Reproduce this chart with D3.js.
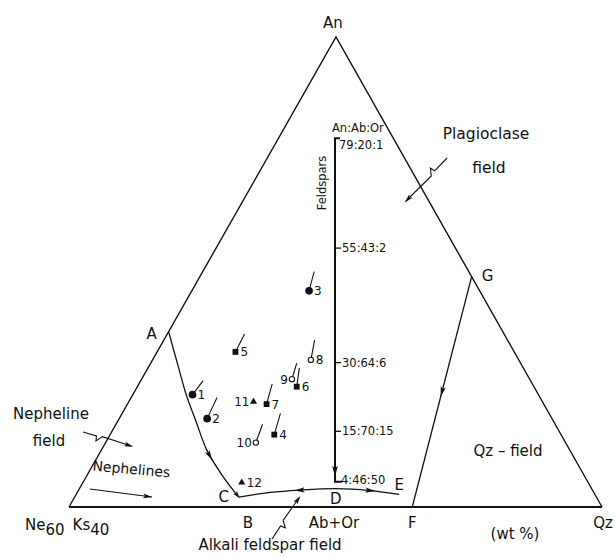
<!DOCTYPE html>
<html>
<head>
<meta charset="utf-8">
<script src="https://cdn.jsdelivr.net/npm/d3@7"></script>
<style>
  body { margin: 0; background: #fff; }
  svg { display: block; }
  text { font-family: "DejaVu Sans", sans-serif; fill: #111; }
</style>
</head>
<body>
<svg id="chart" width="615" height="558"></svg>
<script>
// Samples plotted in the system An - Ne60Ks40 - Qz (wt %)
const sampleIds   = [1, 2, 3, 4, 5, 6, 7, 8, 9, 10, 11, 12];
const sampleAn    = [23.9, 18.8, 46.0, 15.4, 33.0, 25.6, 21.9, 31.3, 27.2, 13.7, 22.4, 5.2];
const sampleQz    = [11.2, 16.5, 22.0, 30.8, 14.7, 29.9, 26.1, 29.7, 28.2, 28.2, 23.4, 29.8];
const sampleNe    = [64.9, 64.7, 32.0, 53.8, 52.3, 44.5, 52.0, 39.0, 44.6, 58.1, 54.2, 65.0];
const sampleKind  = ["dot", "dot", "dot", "square", "square", "square", "square",
                     "ring", "ring", "ring", "triangle", "triangle"];
// Trend of each sample (end point of its tick); null where none is drawn
const trendAn     = [26.9, 23.3, 50.1, 19.9, 36.8, 29.6, 26.2, 35.5, 30.6, 17.6, null, null];
const trendQz     = [11.7, 16.1, 20.9, 29.7, 14.5, 28.4, 25.0, 28.3, 27.4, 27.5, null, null];

// Boundary curves (An, Qz) in wt %
const curveAC_An  = [37.3, 30.2, 23.8, 18.1, 12.1, 6.8, 2.1];
const curveAC_Qz  = [0.0, 5.3, 10.1, 14.8, 19.8, 25.3, 30.8];
const curveCE_An  = [2.1, 3.1, 3.6, 3.9, 3.5, 2.7];
const curveCE_Qz  = [30.8, 36.2, 41.5, 48.1, 54.7, 60.6];
const curveGF_An  = [49.0, 0.0];
const curveGF_Qz  = [51.0, 64.4];

// Named points on the diagram
const pointNames  = ["A", "G", "B", "C", "D", "E", "F"];
const pointAn     = [37.3, 49.0, 0.0, 2.1, 3.9, 2.7, 0.0];
const pointQz     = [0.0, 51.0, 33.4, 30.8, 48.1, 60.6, 64.4];

// Feldspar compositions along the An - (Ab+Or) join
const feldAn      = [79, 55, 30, 15, 4];
const feldLabels  = ["79:20:1", "55:43:2", "30:64:6", "15:70:15", "4:46:50"];

const svg = d3.select("#chart");

// Triangle corners
const NE = [69, 507], AN = [336, 37], QZ = [602, 507];

const yOf = d3.scaleLinear().domain([0, 100]).range([NE[1], AN[1]]);
const leftEdge = d3.scaleLinear().domain([0, 100]).range([NE[0], AN[0]]);
const rightEdge = d3.scaleLinear().domain([0, 100]).range([QZ[0], AN[0]]);
function project(an, qz) {
  const row = d3.scaleLinear().domain([0, 100 - an]).range([leftEdge(an), rightEdge(an)]);
  return [row(qz), yOf(an)];
}

const ink = "#111";

// Triangle outline
svg.append("path")
  .attr("d", d3.line()([NE, AN, QZ]))
  .attr("fill", "none").attr("stroke", ink).attr("stroke-width", 1.4);
svg.append("line")
  .attr("x1", NE[0]).attr("y1", NE[1]).attr("x2", QZ[0]).attr("y2", QZ[1])
  .attr("stroke", ink).attr("stroke-width", 1.8);

// Arrowhead helper: places a narrow filled head on a path at a fraction of its length
function arrowOnPath(node, frac, backwards, len = 10, half = 2.6) {
  const total = node.getTotalLength();
  const L = Math.max(1, Math.min(total - 1, frac * total));
  const p = node.getPointAtLength(L);
  const a = node.getPointAtLength(L - 1), b = node.getPointAtLength(L + 1);
  let ux = b.x - a.x, uy = b.y - a.y;
  const m = Math.hypot(ux, uy); ux /= m; uy /= m;
  if (backwards) { ux = -ux; uy = -uy; }
  const nx = -uy, ny = ux;
  const tip = [p.x + ux * len / 2, p.y + uy * len / 2];
  const base = [p.x - ux * len / 2, p.y - uy * len / 2];
  svg.append("path")
    .attr("d", d3.line()([tip, [base[0] + nx * half, base[1] + ny * half],
                          [base[0] + ux * 2, base[1] + uy * 2],
                          [base[0] - nx * half, base[1] - ny * half]]) + "Z")
    .attr("fill", ink);
}

const smooth = d3.line().curve(d3.curveCatmullRom.alpha(0.5));

// Cotectic A - C
const acPts = curveAC_An.map((an, i) => project(an, curveAC_Qz[i]));
const acPath = svg.append("path").attr("d", smooth(acPts))
  .attr("fill", "none").attr("stroke", ink).attr("stroke-width", 1.3);
arrowOnPath(acPath.node(), 0.72, false);
arrowOnPath(acPath.node(), 0.985, false, 7, 2.6);

// Boundary C - D - E
const cePts = curveCE_An.map((an, i) => project(an, curveCE_Qz[i]));
const cePath = svg.append("path").attr("d", smooth(cePts))
  .attr("fill", "none").attr("stroke", ink).attr("stroke-width", 1.3);
arrowOnPath(cePath.node(), 0.38, true);
arrowOnPath(cePath.node(), 0.82, false);

// Boundary G - F
const gfPts = curveGF_An.map((an, i) => project(an, curveGF_Qz[i]));
const gfPath = svg.append("path").attr("d", d3.line()(gfPts))
  .attr("fill", "none").attr("stroke", ink).attr("stroke-width", 1.3);
arrowOnPath(gfPath.node(), 0.5, false);

// Feldspar join
const feldY = d3.scaleLinear().domain([0, 100]).range([500, 42]);
const feldX = 335;
const fTop = feldY(feldAn[0]), fBot = feldY(feldAn[feldAn.length - 1]);
svg.append("path")
  .attr("d", d3.line()([[feldX + 5, fTop], [feldX, fTop], [feldX, fBot], [feldX + 7, fBot]]))
  .attr("fill", "none").attr("stroke", ink).attr("stroke-width", 2);
{
  const seg = svg.append("path").attr("d", d3.line()([[feldX, fTop], [feldX, fBot]]))
    .attr("stroke", "none").attr("fill", "none");
  arrowOnPath(seg.node(), 0.97, false, 11, 2.8);
  seg.remove();
}
feldAn.slice(1, -1).forEach(v => {
  svg.append("line").attr("x1", feldX).attr("x2", feldX + 6)
    .attr("y1", feldY(v)).attr("y2", feldY(v))
    .attr("stroke", ink).attr("stroke-width", 1.3);
});
feldAn.forEach((v, i) => {
  let x = feldX + 7, y = feldY(v) + 4;
  if (i === 0) { x = feldX + 4; y = feldY(v) + 11; }
  if (i === feldAn.length - 1) { x = feldX + 6; y = feldY(v) + 2; }
  svg.append("text").attr("x", x).attr("y", y)
    .attr("font-size", 11.5).text(feldLabels[i]);
});
svg.append("text").attr("x", feldX - 3).attr("y", fTop - 6)
  .attr("font-size", 11.5).text("An:Ab:Or");
svg.append("text")
  .attr("transform", `translate(${feldX - 9},${183}) rotate(-90)`)
  .attr("text-anchor", "middle").attr("font-size", 11.5).text("Feldspars");

// Sample ticks
sampleIds.forEach((id, i) => {
  if (trendAn[i] == null) return;
  const [x0, y0] = project(sampleAn[i], sampleQz[i]);
  const [x1, y1] = project(trendAn[i], trendQz[i]);
  const m = Math.hypot(x1 - x0, y1 - y0);
  const off = sampleKind[i] === "ring" ? 2.8 : 0;
  svg.append("line")
    .attr("x1", x0 + (x1 - x0) / m * off).attr("y1", y0 + (y1 - y0) / m * off)
    .attr("x2", x1).attr("y2", y1)
    .attr("stroke", ink).attr("stroke-width", 1.1);
});

// Sample markers
const symbolFor = {
  dot: d3.symbol(d3.symbolCircle, 46),
  square: d3.symbol(d3.symbolSquare, 34),
  ring: d3.symbol(d3.symbolCircle, 22),
  triangle: d3.symbol(d3.symbolTriangle, 22)
};
sampleIds.forEach((id, i) => {
  const [x, y] = project(sampleAn[i], sampleQz[i]);
  const k = sampleKind[i];
  svg.append("path")
    .attr("transform", `translate(${x},${y})`)
    .attr("d", symbolFor[k]())
    .attr("fill", k === "ring" ? "#fff" : ink)
    .attr("stroke", k === "ring" ? ink : "none")
    .attr("stroke-width", 1.1);
  const leftSide = id === 9 || id === 10 || id === 11;
  svg.append("text")
    .attr("x", leftSide ? x - 4 : x + 5)
    .attr("y", y + 4.5)
    .attr("text-anchor", leftSide ? "end" : "start")
    .attr("font-size", 12)
    .text(id);
});

// Lightning-bolt arrows pointing into fields
function boltArrow(s, e, t) {
  const dx = e[0] - s[0], dy = e[1] - s[1];
  const m = Math.hypot(dx, dy), ux = dx / m, uy = dy / m, nx = -uy, ny = ux;
  const p = [s[0] + dx * t, s[1] + dy * t];
  const q = [p[0] + nx * 5 + ux * 1, p[1] + ny * 5 + uy * 1];
  const r = [p[0] - nx * 1 + ux * 6, p[1] - ny * 1 + uy * 6];
  svg.append("path").attr("d", d3.line()([s, p, q, r, e]))
    .attr("fill", "none").attr("stroke", ink).attr("stroke-width", 1.1);
  const seg = svg.append("path").attr("d", d3.line()([r, e])).attr("fill", "none");
  arrowOnPath(seg.node(), 0.93, false, 9, 2.4);
  seg.remove();
}
boltArrow([447, 158], [406, 201], 0.3);
boltArrow([83, 432], [131, 446], 0.28);
boltArrow([272, 539], [299, 498], 0.32);

// Plain arrow under "Nephelines"
{
  const seg = svg.append("path").attr("d", d3.line()([[90, 489], [152, 497]]))
    .attr("fill", "none").attr("stroke", ink).attr("stroke-width", 1.1);
  arrowOnPath(seg.node(), 0.93, false, 9, 2.4);
}

// Text labels
function label(x, y, txt, size = 15, anchor = "middle") {
  return svg.append("text").attr("x", x).attr("y", y)
    .attr("font-size", size).attr("text-anchor", anchor).text(txt);
}
label(AN[0] - 3, 28, "An");
label(486, 139, "Plagioclase", 15.5);
label(489, 173, "field", 15.5);
label(51, 419, "Nepheline");
label(49, 446, "field");
label(508, 456, "Qz – field");
svg.append("text")
  .attr("transform", "translate(131,474) rotate(5)")
  .attr("text-anchor", "middle").attr("font-size", 14).text("Nephelines");

const pOffsets = { A: [-17, 7], G: [16, 4], B: [1, 21], C: [-15, 5], D: [0, 15], E: [0, -4], F: [0, 21] };
pointNames.forEach((n, i) => {
  const [x, y] = project(pointAn[i], pointQz[i]);
  label(x + pOffsets[n][0], y + pOffsets[n][1], n);
});

label(334, 528, "Ab+Or");
label(515, 539, "(wt %)");
label(613, 528, "Qz", 15, "end");
label(270, 550, "Alkali feldspar field");

const neLabel = svg.append("text").attr("x", 25).attr("y", 530).attr("font-size", 15);
neLabel.append("tspan").text("Ne");
neLabel.append("tspan").attr("dy", 5).text("60");
neLabel.append("tspan").attr("dy", -5).attr("dx", 8).text("Ks");
neLabel.append("tspan").attr("dy", 5).text("40");
</script>
</body>
</html>
